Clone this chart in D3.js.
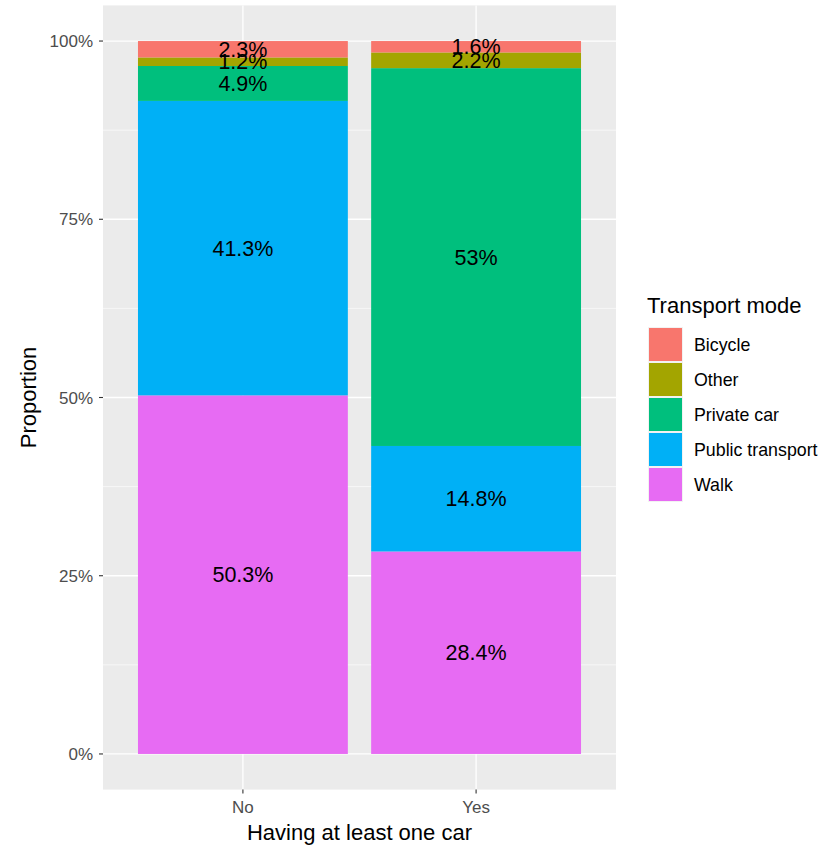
<!DOCTYPE html>
<html><head><meta charset="utf-8">
<script src="https://cdn.jsdelivr.net/npm/d3@7"></script>
<style>body{margin:0;background:#fff}svg{display:block;font-family:"Liberation Sans",Arial,sans-serif}</style>
</head><body><svg id="c" width="831" height="848"></svg>
<script>
const categories = ["No","Yes"];
const modes = ["Bicycle","Other","Private car","Public transport","Walk"];
const colors = ["#F8766D","#A3A500","#00BF7D","#00B0F6","#E76BF3"];
const bicycle = [2.3, 1.6];
const other = [1.2, 2.2];
const privateCar = [4.9, 53];
const publicTransport = [41.3, 14.8];
const walk = [50.3, 28.4];
const labelsText = {Bicycle:["2.3%","1.6%"],Other:["1.2%","2.2%"],"Private car":["4.9%","53%"],"Public transport":["41.3%","14.8%"],Walk:["50.3%","28.4%"]};
const yTicks = [0,0.25,0.5,0.75,1];
const yMinor = [0.125,0.375,0.625,0.875];

const series = {"Bicycle":bicycle,"Other":other,"Private car":privateCar,"Public transport":publicTransport,"Walk":walk};
const rows = categories.map((c,i)=>{const r={cat:c}; modes.forEach(m=>r[m]=series[m][i]/100); return r;});
const stack = d3.stack().keys(modes.slice().reverse())(rows);

const svg = d3.select("#c");
const L=103, R=616, T=5.4, B=789.6;
const x = d3.scalePoint().domain(categories).range([L+(R-L)*0.6/2.2, R-(R-L)*0.6/2.2]);
const unit = (R-L)/2.2;
const y = d3.scaleLinear().domain([-0.05,1.05]).range([B,T]);
const color = d3.scaleOrdinal().domain(modes).range(colors);

svg.append("rect").attr("x",L).attr("y",T).attr("width",R-L).attr("height",B-T).attr("fill","#EBEBEB");
const g = svg.append("g");
yMinor.forEach(v=>g.append("line").attr("x1",L).attr("x2",R).attr("y1",y(v)).attr("y2",y(v)).attr("stroke","#fff").attr("stroke-width",0.6));
yTicks.forEach(v=>g.append("line").attr("x1",L).attr("x2",R).attr("y1",y(v)).attr("y2",y(v)).attr("stroke","#fff").attr("stroke-width",1.3));
categories.forEach(c=>g.append("line").attr("x1",x(c)).attr("x2",x(c)).attr("y1",T).attr("y2",B).attr("stroke","#fff").attr("stroke-width",1.3));

const bw = unit*0.9;
stack.forEach(layer=>{
  const key = layer.key;
  layer.forEach((d,i)=>{
    svg.append("rect").attr("x",x(categories[i])-bw/2).attr("width",bw)
      .attr("y",y(d[1])).attr("height",y(d[0])-y(d[1])).attr("fill",color(key));
  });
});
stack.forEach(layer=>{
  const key = layer.key;
  layer.forEach((d,i)=>{
    svg.append("text").attr("x",x(categories[i])).attr("y",y((d[0]+d[1])/2)).attr("dy","0.36em")
      .attr("text-anchor","middle").attr("font-size",21.5).attr("fill","#000").text(labelsText[key][i]);
  });
});

// y axis
yTicks.forEach(v=>{
  svg.append("line").attr("x1",L-4).attr("x2",L).attr("y1",y(v)).attr("y2",y(v)).attr("stroke","#333").attr("stroke-width",1.1);
  svg.append("text").attr("x",L-10).attr("y",y(v)).attr("dy","0.36em").attr("text-anchor","end").attr("font-size",17).attr("fill","#4D4D4D").text(d3.format(".0%")(v));
});
categories.forEach(c=>{
  svg.append("line").attr("x1",x(c)).attr("x2",x(c)).attr("y1",B).attr("y2",B+4).attr("stroke","#333").attr("stroke-width",1.1);
  svg.append("text").attr("x",x(c)).attr("y",B+23).attr("text-anchor","middle").attr("font-size",17).attr("fill","#4D4D4D").text(c);
});
svg.append("text").attr("x",(L+R)/2).attr("y",840).attr("text-anchor","middle").attr("font-size",22).attr("fill","#000").text("Having at least one car");
svg.append("text").attr("transform",`translate(36,${(T+B)/2}) rotate(-90)`).attr("text-anchor","middle").attr("font-size",22).attr("fill","#000").text("Proportion");

// legend
const lg = svg.append("g");
lg.append("text").attr("x",647).attr("y",313).attr("font-size",22).attr("fill","#000").text("Transport mode");
modes.forEach((m,i)=>{
  const yy = 327 + i*35;
  lg.append("rect").attr("x",648).attr("y",yy).attr("width",35).attr("height",35).attr("fill","#F2F2F2");
  lg.append("rect").attr("x",649).attr("y",yy+1).attr("width",33).attr("height",33).attr("fill",color(m));
  lg.append("text").attr("x",694).attr("y",yy+17.5).attr("dy","0.36em").attr("font-size",17.8).attr("fill","#000").text(m);
});
</script></body></html>
